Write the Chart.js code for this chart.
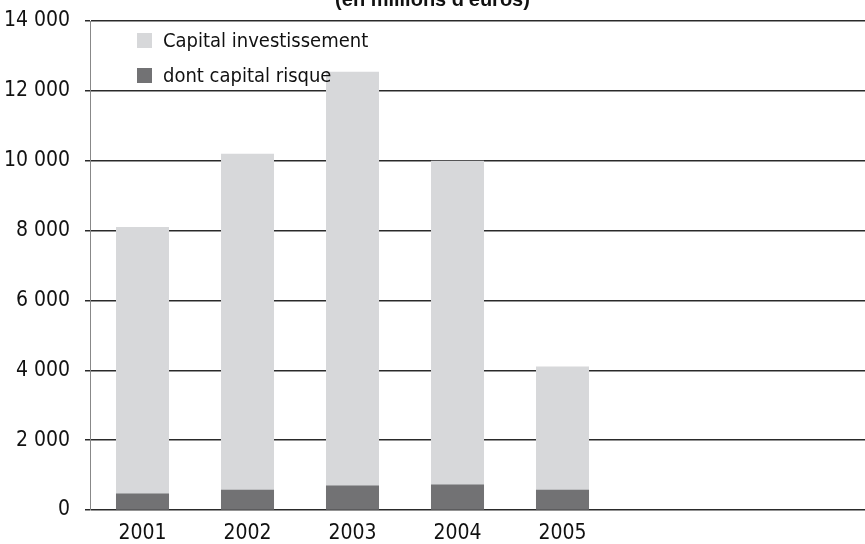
<!DOCTYPE html>
<html>
<head>
<meta charset="utf-8">
<script src="https://cdn.jsdelivr.net/npm/chart.js@4"></script>
<style>
    html, body { margin: 0; padding: 0; background: #fff; overflow: hidden; }
    #wrap { position: absolute; left: 0; top: -19px; width: 865px; height: 563px; }
    #legend { position: absolute; left: 137px; top: 27px; font-family: "Liberation Sans Narrow", "DejaVu Sans Condensed", sans-serif; font-size: 20px; color: #111; }
    #legend .item { height: 35px; line-height: 26px; white-space: nowrap; }
    #legend .box { display: inline-block; width: 15px; height: 15px; margin-right: 11px; vertical-align: -1px; }
</style>
</head>
<body>
<div id="wrap"><canvas id="chart"></canvas></div>
<div id="legend"></div>
<script>
var years = [2001, 2002, 2003, 2004, 2005];
var capitalInvestissement = [8100, 10200, 12550, 10000, 4110];
var capitalRisque = [470, 580, 700, 730, 580];
var yTicks = [0, 2000, 4000, 6000, 8000, 10000, 12000, 14000];

var narrow = '"Liberation Sans Narrow", "DejaVu Sans Condensed", sans-serif';

function points(values) {
    return values.map(function (v, i) { return { x: years[i], y: v }; });
}

var ctx = document.getElementById('chart').getContext('2d');
var chart = new Chart(ctx, {
    type: 'bar',
    data: {
        datasets: [{
            label: 'Capital investissement',
            data: points(capitalInvestissement),
            backgroundColor: '#d7d8da',
            order: 1
        }, {
            label: 'dont capital risque',
            data: points(capitalRisque),
            backgroundColor: '#727274',
            order: 0
        }]
    },
    options: {
        responsive: true,
        maintainAspectRatio: false,
        animation: false,
        datasets: {
            bar: { grouped: false, barPercentage: 0.505, categoryPercentage: 1 }
        },
        layout: { padding: 0 },
        plugins: {
            legend: { display: false },
            tooltip: { enabled: false },
            title: {
                display: true,
                text: "(en millions d'euros)",
                color: '#111',
                font: { family: '"Liberation Sans", Arial, sans-serif', size: 20, weight: 'bold' },
                padding: { top: 7, bottom: 9 }
            }
        },
        scales: {
            x: {
                type: 'linear',
                offset: false,
                min: 2000.5,
                max: 2000.5 + 775 / 105,
                grid: { display: false },
                border: { display: false },
                afterBuildTicks: function (scale) {
                    scale.ticks = years.map(function (y) { return { value: y }; });
                },
                afterFit: function (scale) { scale.height = 34; },
                ticks: {
                    color: '#111',
                    padding: 3,
                    maxRotation: 0,
                    font: { family: narrow, size: 21 },
                    callback: function (v) { return String(v); }
                }
            },
            y: {
                min: 0,
                max: 14000,
                afterBuildTicks: function (scale) {
                    scale.ticks = yTicks.map(function (v) { return { value: v }; });
                },
                afterFit: function (scale) { scale.width = 90; },
                grid: { color: '#2a2a2a', lineWidth: 1.5, tickLength: 5 },
                border: { display: true, color: '#888', width: 1 },
                ticks: {
                    color: '#111',
                    padding: 15,
                    font: { family: narrow, size: 21 },
                    callback: function (v) { return String(v).replace(/\B(?=(\d{3})+(?!\d))/g, ' '); }
                }
            }
        }
    }
});

var legend = document.getElementById('legend');
chart.data.datasets.forEach(function (ds) {
    var item = document.createElement('div');
    item.className = 'item';
    var box = document.createElement('span');
    box.className = 'box';
    box.style.background = ds.backgroundColor;
    item.appendChild(box);
    item.appendChild(document.createTextNode(ds.label));
    legend.appendChild(item);
});
</script>
</body>
</html>
